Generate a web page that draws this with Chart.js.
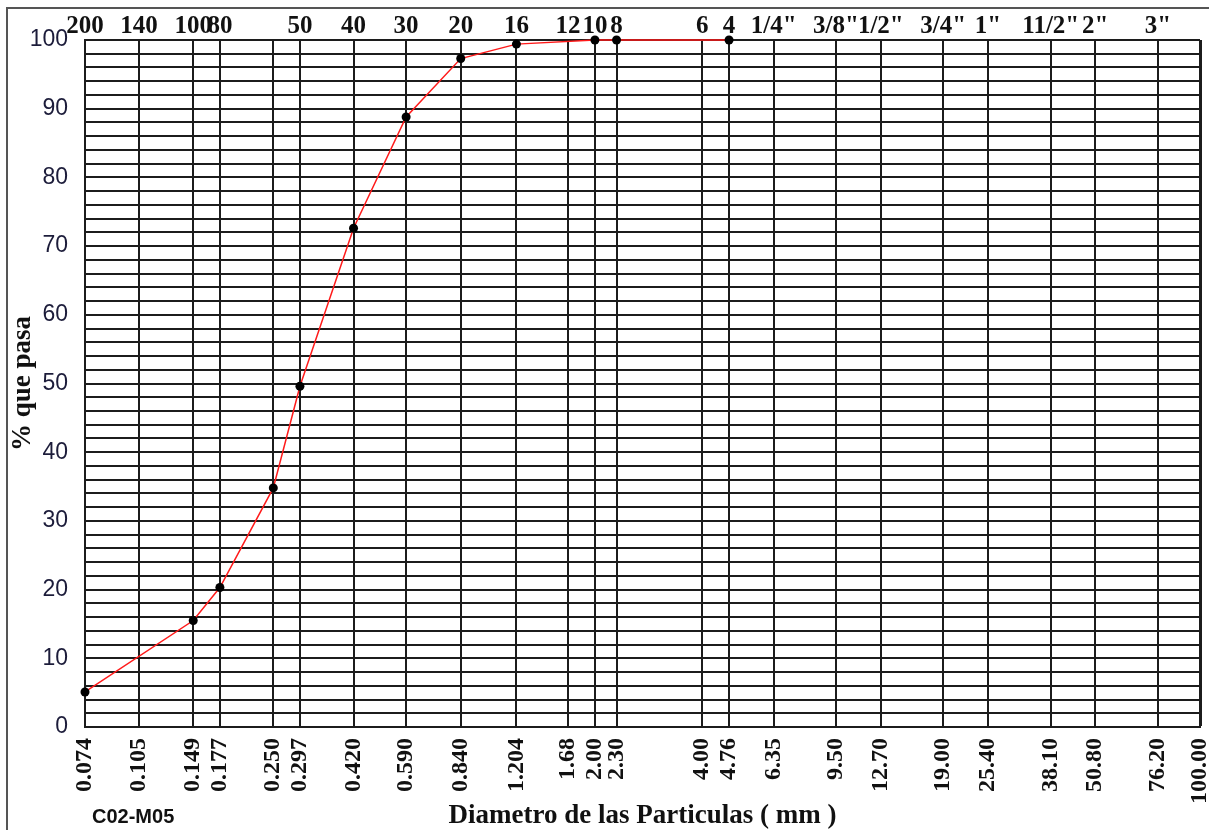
<!DOCTYPE html>
<html>
<head>
<meta charset="utf-8">
<script src="https://cdn.jsdelivr.net/npm/chart.js@4/dist/chart.umd.min.js"></script>
<style>
  body { margin: 0; background: #fff; }
  canvas { display: block; }
</style>
</head>
<body>
<canvas id="granulometria" width="1209" height="830"></canvas>
<script>
// sieve openings in mm, one vertical grid line each
var sieveSizes = [0.074, 0.105, 0.149, 0.177, 0.250, 0.297, 0.420, 0.590, 0.840, 1.204, 1.68, 2.00, 2.30,
                  4.00, 4.76, 6.35, 9.50, 12.70, 19.00, 25.40, 38.10, 50.80, 76.20, 100.00];
var sizeLabels = ['0.074', '0.105', '0.149', '0.177', '0.250', '0.297', '0.420', '0.590', '0.840', '1.204', '1.68', '2.00', '2.30',
                  '4.00', '4.76', '6.35', '9.50', '12.70', '19.00', '25.40', '38.10', '50.80', '76.20', '100.00'];
// ASTM sieve designation printed above each opening
var sieveNames = ['200', '140', '100', '80', '', '50', '40', '30', '20', '16', '12', '10', '8',
                  '6', '4', '1/4"', '3/8"', '1/2"', '3/4"', '1"', '11/2"', '2"', '3"', ''];

// sample C02-M05
var sampleSizes = [0.074, 0.149, 0.177, 0.250, 0.297, 0.420, 0.590, 0.840, 1.204, 2.00, 2.30, 4.76];
var percentPassing = [5.1, 15.5, 20.3, 34.8, 49.6, 72.6, 88.8, 97.3, 99.4, 100, 100, 100];

var serif = '"Liberation Serif", "Times New Roman", serif';
var sans = '"Liberation Sans", Arial, sans-serif';
var gridColor = '#1c1c1c';

function sieveTicks(scale) {
    scale.ticks = sieveSizes.map(function (v) { return { value: v }; });
}

function fixBox(size) {
    return function (scale) {
        if (scale.isHorizontal()) {
            scale.height = size;
        } else {
            scale.width = size;
        }
        scale.paddingLeft = 0;
        scale.paddingRight = 0;
        scale.paddingTop = 0;
        scale.paddingBottom = 0;
    };
}

var framePlugin = {
    id: 'frame',
    beforeDraw: function (chart) {
        var ctx = chart.ctx;
        ctx.save();
        ctx.strokeStyle = '#555';
        ctx.lineWidth = 2;
        ctx.beginPath();
        ctx.moveTo(7, chart.height);
        ctx.lineTo(7, 8);
        ctx.lineTo(chart.width, 8);
        ctx.stroke();
        ctx.restore();
    },
    afterDraw: function (chart) {
        var ctx = chart.ctx;
        ctx.save();
        ctx.fillStyle = '#111';
        ctx.font = 'bold 20px ' + sans;
        ctx.textBaseline = 'alphabetic';
        ctx.fillText('C02-M05', chart.chartArea.left + 7, 823);
        ctx.restore();
    }
};

var ctx = document.getElementById('granulometria').getContext('2d');
new Chart(ctx, {
    type: 'line',
    data: {
        datasets: [{
            data: sampleSizes.map(function (x, i) { return { x: x, y: percentPassing[i] }; }),
            borderColor: '#ff1a1a',
            borderWidth: 1.5,
            tension: 0,
            pointRadius: 4.5,
            pointBackgroundColor: '#000',
            pointBorderColor: '#000',
            pointBorderWidth: 0,
            clip: false
        }]
    },
    options: {
        responsive: false,
        animation: false,
        layout: { padding: { left: 0, right: 9, top: 0, bottom: 0 } },
        plugins: {
            legend: { display: false },
            tooltip: { enabled: false }
        },
        scales: {
            x: {
                type: 'logarithmic',
                position: 'bottom',
                min: 0.074,
                max: 100,
                afterBuildTicks: sieveTicks,
                afterFit: fixBox(103),
                grid: {
                    color: gridColor,
                    lineWidth: function (c) { return c.tick && c.tick.value === 100 ? 3 : 2; },
                    drawTicks: false
                },
                border: { color: gridColor, width: 2 },
                ticks: {
                    autoSkip: false,
                    minRotation: 90,
                    maxRotation: 90,
                    padding: 11,
                    color: '#111',
                    font: { family: serif, size: 24, weight: 'bold' },
                    callback: function (value, index) { return sizeLabels[index]; }
                },
                title: {
                    display: true,
                    text: 'Diametro de las Particulas ( mm )',
                    color: '#111',
                    font: { family: serif, size: 27, weight: 'bold', lineHeight: 1 },
                    padding: { top: 0, bottom: 0 }
                }
            },
            xTop: {
                type: 'logarithmic',
                position: 'top',
                min: 0.074,
                max: 100,
                afterBuildTicks: sieveTicks,
                afterFit: fixBox(40),
                grid: { display: false, drawTicks: false },
                border: { display: false },
                ticks: {
                    autoSkip: false,
                    maxRotation: 0,
                    minRotation: 0,
                    padding: 0,
                    color: '#111',
                    font: { family: serif, size: 25, weight: 'bold', lineHeight: 1.1 },
                    callback: function (value, index) { return sieveNames[index]; }
                }
            },
            y: {
                min: 0,
                max: 100,
                afterFit: fixBox(85),
                grid: { color: gridColor, lineWidth: 2, drawTicks: false },
                border: { color: gridColor, width: 2 },
                ticks: {
                    stepSize: 2,
                    autoSkip: false,
                    padding: 17,
                    color: '#1c1c3a',
                    font: { family: sans, size: 23 },
                    callback: function (value) { return value % 10 === 0 ? value : ''; }
                },
                title: {
                    display: true,
                    text: '% que pasa',
                    color: '#111',
                    font: { family: serif, size: 27, weight: 'bold' },
                    padding: { top: 7, bottom: 0 }
                }
            }
        }
    },
    plugins: [framePlugin]
});
</script>
</body>
</html>
